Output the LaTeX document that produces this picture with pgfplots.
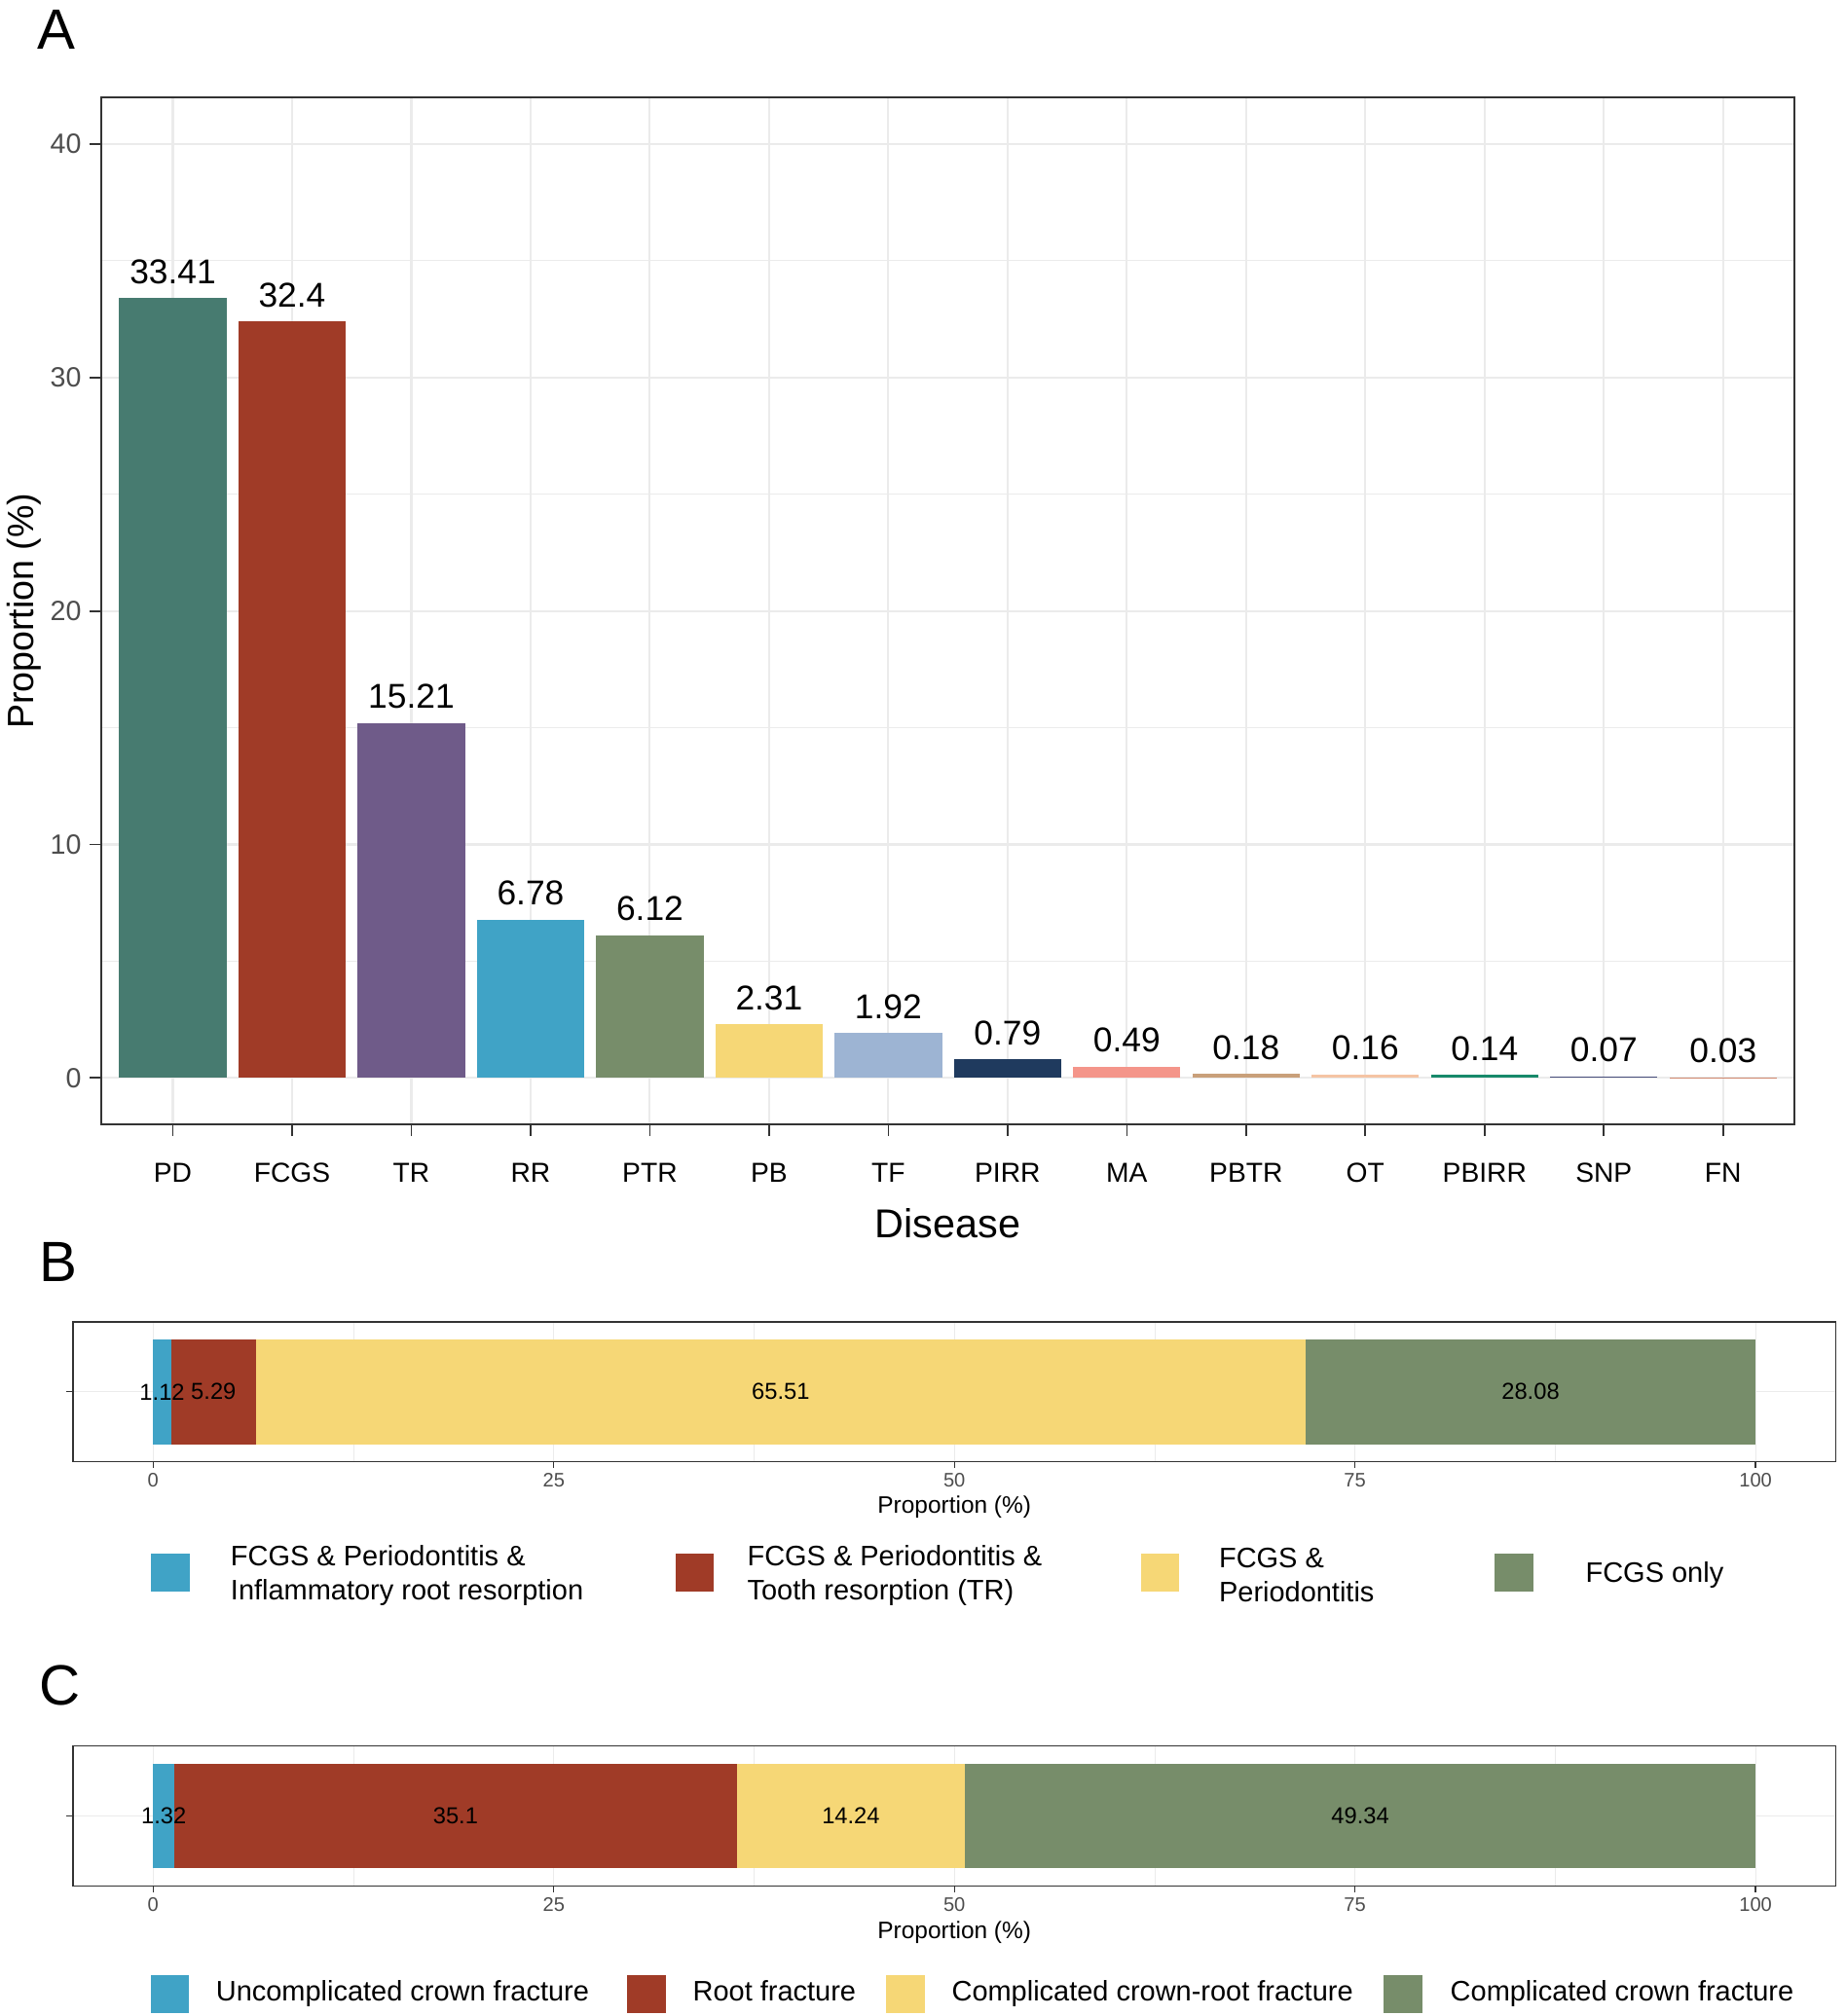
\documentclass[border=0pt]{standalone}
\usepackage{fontspec}
\setmainfont{Liberation Sans}
\usepackage{pgfplots}
\pgfplotsset{compat=1.18}

% one pixel of the reference (scaled to 1440 px wide)
\newdimen\unitpx \unitpx=0.35pt

\definecolor{cPD}{HTML}{477B70}
\definecolor{cFCGS}{HTML}{A03B27}
\definecolor{cTR}{HTML}{6F5B89}
\definecolor{cRR}{HTML}{40A3C6}
\definecolor{cPTR}{HTML}{778D6A}
\definecolor{cPB}{HTML}{F6D776}
\definecolor{cTF}{HTML}{9DB4D3}
\definecolor{cPIRR}{HTML}{1F3A5E}
\definecolor{cMA}{HTML}{F4958A}
\definecolor{cPBTR}{HTML}{C9A07A}
\definecolor{cOT}{HTML}{F5C4A4}
\definecolor{cPBIRR}{HTML}{17896A}
\definecolor{cSNP}{HTML}{474E7C}
\definecolor{cFN}{HTML}{D0876E}
\definecolor{gridgrey}{HTML}{EBEBEB}
\definecolor{grey20}{HTML}{333333}
\definecolor{grey30}{HTML}{4D4D4D}

\pgfplotsset{
  ggbase/.style={
    scale only axis, anchor=south west,
    enlargelimits=false,
    axis line style={draw=grey20},
    tick style={draw=grey20},
    tick align=outside, tick pos=left,
    minor tick length=0pt,
    major grid style={draw=gridgrey},
    minor grid style={draw=gridgrey},
    /pgf/number format/assume math mode=true,
    tick label style={text=grey30},
  },
  sqkey/.style={legend image code/.code={%
    \fill[##1] (0pt,-13*\unitpx) rectangle (30*\unitpx,17*\unitpx);}},
  sqkeyc/.style={legend image code/.code={%
    \fill[##1] (0pt,-15*\unitpx) rectangle (30*\unitpx,15*\unitpx);}},
  stackbar/.style={
    ggbase, width=1375*\unitpx, height=109*\unitpx,
    xmin=-5, xmax=105, ymin=0.4, ymax=1.6,
    axis line style={line width=1*\unitpx},
    tick style={line width=1*\unitpx},
    major tick length=5*\unitpx,
    major grid style={line width=0.9*\unitpx},
    minor grid style={line width=0.5*\unitpx},
    xtick={0,25,50,75,100}, minor xtick={12.5,37.5,62.5,87.5},
    ytick={1}, yticklabel={\phantom{1}},
    xmajorgrids, xminorgrids, ymajorgrids,
    xticklabel style={anchor=base, inner sep=0pt, yshift=-15*\unitpx,
      font=\fontsize{5.35}{6}\selectfont},
    xlabel={Proportion (\%)},
    xlabel style={anchor=base, font=\fontsize{6.5}{8}\selectfont},
    legend columns=4, legend cell align=left,
    legend style={anchor=west, draw=none, fill=none, inner sep=0pt,
      outer sep=0pt, column sep=0pt,
      nodes={inner sep=0pt, text height=, text depth=},
      font=\fontsize{7.7}{9.3}\selectfont},
  },
  stacklabels/.style={
    scale only axis, anchor=south west, hide axis,
    width=1375*\unitpx, height=109*\unitpx,
    xmin=-5, xmax=105, ymin=0.4, ymax=1.6,
  },
}

\begin{document}
\begin{tikzpicture}
\path[use as bounding box] (0,0) rectangle (1440*\unitpx,-1573*\unitpx);

\node[anchor=base west, inner sep=0pt, font=\fontsize{15.5}{18}\selectfont]
  at (29*\unitpx,-38*\unitpx) {A};
\node[anchor=base west, inner sep=0pt, font=\fontsize{15.5}{18}\selectfont]
  at (30*\unitpx,-1000*\unitpx) {B};
\node[anchor=base west, inner sep=0pt, font=\fontsize{15.5}{18}\selectfont]
  at (30*\unitpx,-1330*\unitpx) {C};

% ---- panel A
\begin{axis}[
  ggbase,
  at={(79*\unitpx,-877.5*\unitpx)},
  width=1321*\unitpx, height=801.5*\unitpx,
  xmin=0.4, xmax=14.6, ymin=-2, ymax=42,
  axis line style={line width=1.3*\unitpx},
  tick style={line width=1.3*\unitpx},
  major tick length=9*\unitpx,
  major grid style={line width=1.6*\unitpx},
  minor grid style={line width=0.8*\unitpx},
  xtick={1,...,14},
  xticklabels={PD,FCGS,TR,RR,PTR,PB,TF,PIRR,MA,PBTR,OT,PBIRR,SNP,FN},
  ytick={0,10,20,30,40}, minor ytick={5,15,25,35},
  xmajorgrids, ymajorgrids, yminorgrids,
  xticklabel style={anchor=base, inner sep=0pt, yshift=-36*\unitpx,
    text=black, font=\fontsize{7.5}{9}\selectfont},
  yticklabel style={anchor=east, inner sep=0pt, xshift=-6*\unitpx,
    font=\fontsize{7.6}{9}\selectfont},
  xlabel={Disease},
  xlabel style={at={(axis description cs:0.5,-0.1102)}, anchor=base,
    font=\fontsize{11}{13}\selectfont},
  ylabel={Proportion (\%)},
  ylabel style={at={(axis description cs:-0.0397,0.5)}, anchor=base,
    font=\fontsize{10}{12}\selectfont},
  every axis plot/.append style={ybar, bar width=0.9, bar shift=0pt, draw=none},
  nodes near coords, point meta=explicit symbolic,
  every node near coord/.append style={anchor=south, inner sep=0pt,
    yshift=10.5*\unitpx, text=black, font=\fontsize{9.4}{11}\selectfont},
]
\addplot[fill=cPD]    coordinates {(1,33.41) [33.41]};
\addplot[fill=cFCGS]  coordinates {(2,32.4) [32.4]};
\addplot[fill=cTR]    coordinates {(3,15.21) [15.21]};
\addplot[fill=cRR]    coordinates {(4,6.78) [6.78]};
\addplot[fill=cPTR]   coordinates {(5,6.12) [6.12]};
\addplot[fill=cPB]    coordinates {(6,2.31) [2.31]};
\addplot[fill=cTF]    coordinates {(7,1.92) [1.92]};
\addplot[fill=cPIRR]  coordinates {(8,0.79) [0.79]};
\addplot[fill=cMA]    coordinates {(9,0.49) [0.49]};
\addplot[fill=cPBTR]  coordinates {(10,0.18) [0.18]};
\addplot[fill=cOT]    coordinates {(11,0.16) [0.16]};
\addplot[fill=cPBIRR] coordinates {(12,0.14) [0.14]};
\addplot[fill=cSNP]   coordinates {(13,0.07) [0.07]};
\addplot[fill=cFN]    coordinates {(14,0.03) [0.03]};
\end{axis}

% ---- panel B
\begin{axis}[
  stackbar, xbar stacked, bar width=0.9,
  at={(57*\unitpx,-1140.5*\unitpx)},
  xlabel style={at={(axis description cs:0.5,-0.372)}},
  legend style={at={(axis description cs:0.04436,-0.812)}},
]
\addplot[fill=cRR, draw=none, sqkey] coordinates {(1.12,1)};
\addlegendentry{\hspace*{32\unitpx}\parbox[c]{347\unitpx}{FCGS \& Periodontitis \&\\Inflammatory root resorption}}
\addplot[fill=cFCGS, draw=none, sqkey] coordinates {(5.29,1)};
\addlegendentry{\hspace*{26\unitpx}\parbox[c]{307\unitpx}{FCGS \& Periodontitis \&\\Tooth resorption (TR)}}
\addplot[fill=cPB, draw=none, sqkey] coordinates {(65.51,1)};
\addlegendentry{\hspace*{31\unitpx}\parbox[c]{215\unitpx}{FCGS \&\\Periodontitis}}
\addplot[fill=cPTR, draw=none, sqkey] coordinates {(28.08,1)};
\addlegendentry{\hspace*{41\unitpx}FCGS only\strut}
\end{axis}
\begin{axis}[stacklabels, at={(57*\unitpx,-1140.5*\unitpx)}]
\addplot[draw=none, nodes near coords, point meta=explicit symbolic,
  every node near coord/.append style={anchor=center, inner sep=0pt,
    text=black, font=\fontsize{6.3}{7.5}\selectfont}]
  coordinates {(0.56,1) [1.12] (3.765,1) [5.29] (39.165,1) [65.51] (85.96,1) [28.08]};
\end{axis}

% ---- panel C
\begin{axis}[
  stackbar, xbar stacked, bar width=0.9,
  at={(57*\unitpx,-1471.4*\unitpx)},
  xlabel style={at={(axis description cs:0.5,-0.379)}},
  legend style={at={(axis description cs:0.044,-0.776)}},
]
\addplot[fill=cRR, draw=none, sqkeyc] coordinates {(1.32,1)};
\addlegendentry{\hspace*{21\unitpx}\makebox[321\unitpx][l]{Uncomplicated crown fracture\strut}}
\addplot[fill=cFCGS, draw=none, sqkeyc] coordinates {(35.1,1)};
\addlegendentry{\hspace*{21\unitpx}\makebox[151\unitpx][l]{Root fracture\strut}}
\addplot[fill=cPB, draw=none, sqkeyc] coordinates {(14.24,1)};
\addlegendentry{\hspace*{21\unitpx}\makebox[337\unitpx][l]{Complicated crown-root fracture\strut}}
\addplot[fill=cPTR, draw=none, sqkeyc] coordinates {(49.34,1)};
\addlegendentry{\hspace*{22\unitpx}Complicated crown fracture\strut}
\end{axis}
\begin{axis}[stacklabels, at={(57*\unitpx,-1471.4*\unitpx)}]
\addplot[draw=none, nodes near coords, point meta=explicit symbolic,
  every node near coord/.append style={anchor=center, inner sep=0pt,
    text=black, font=\fontsize{6.3}{7.5}\selectfont}]
  coordinates {(0.66,1) [1.32] (18.87,1) [35.1] (43.54,1) [14.24] (75.33,1) [49.34]};
\end{axis}
\end{tikzpicture}
\end{document}
